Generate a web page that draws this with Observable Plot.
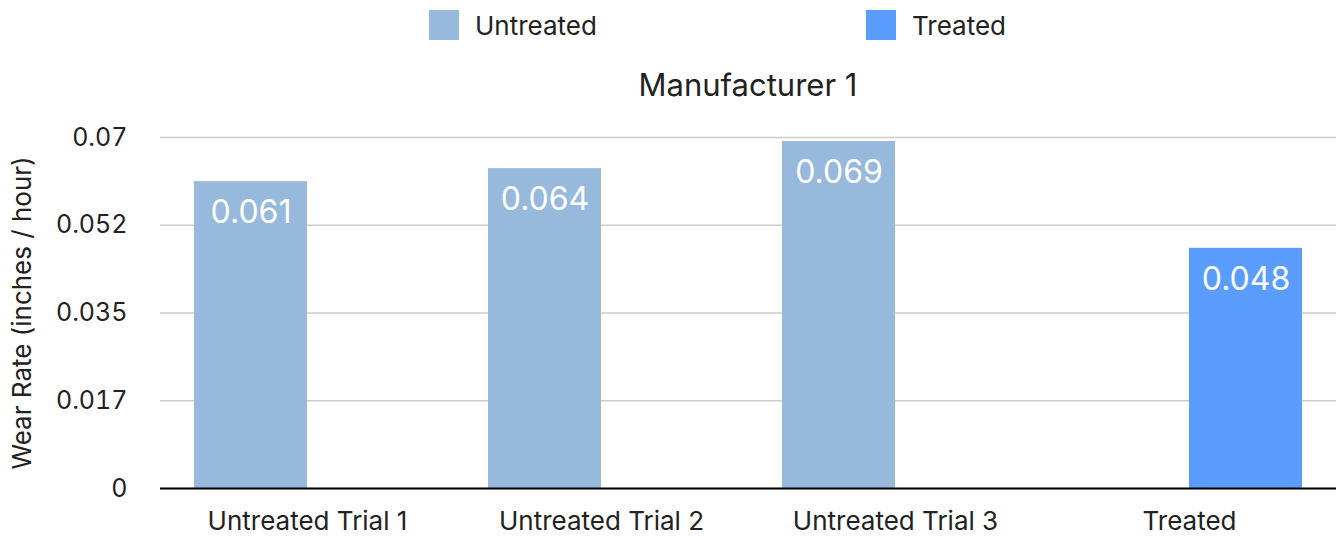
<!DOCTYPE html>
<html>
<head>
<meta charset="utf-8">
<script src="https://cdn.jsdelivr.net/npm/d3@7"></script>
<script src="https://cdn.jsdelivr.net/npm/@observablehq/plot@0.6"></script>
<style>
  html, body { margin: 0; padding: 0; background: #fff; }
  body { width: 1338px; height: 537px; position: relative; overflow: hidden; font-family: Inter, Roboto, sans-serif; color: #222; }
  .legend-item { position: absolute; top: 10px; height: 30px; display: flex; align-items: center; font-size: 26px; }
  .swatch { width: 30px; height: 30px; margin-right: 16px; }
  #title { position: absolute; left: 160px; width: 1176px; top: 66px; text-align: center; font-size: 31px; }
  #chart { position: absolute; left: 0; top: 110px; }
</style>
</head>
<body>
<div id="legend"></div>
<div id="title">Manufacturer 1</div>
<div id="chart"></div>
<script>
const categories = ["Untreated Trial 1", "Untreated Trial 2", "Untreated Trial 3", "Treated"];
const series = ["Untreated", "Treated"];
const seriesOf = ["Untreated", "Untreated", "Untreated", "Treated"];
const values = [0.0612, 0.0638, 0.0692, 0.0479];
const valueLabels = ["0.061", "0.064", "0.069", "0.048"];
const yTicks = [0, 0.0175, 0.035, 0.0525, 0.07];
const yTickLabels = ["0", "0.017", "0.035", "0.052", "0.07"];
const colors = ["#97b9db", "#5a9dff"];
const legendLeft = [429, 866];

const data = categories.map((c, i) => ({category: c, series: seriesOf[i], value: values[i], label: valueLabels[i]}));

const legend = document.getElementById("legend");
series.forEach((s, i) => {
  const item = document.createElement("div");
  item.className = "legend-item";
  item.style.left = legendLeft[i] + "px";
  const sw = document.createElement("div");
  sw.className = "swatch";
  sw.style.background = colors[i];
  const t = document.createElement("span");
  t.textContent = s;
  item.appendChild(sw);
  item.appendChild(t);
  legend.appendChild(item);
});

const chart = Plot.plot({
  width: 1338,
  height: 427,
  marginTop: 27,
  marginBottom: 49,
  marginLeft: 160,
  marginRight: 2,
  style: {fontFamily: "Inter, Roboto, sans-serif", fontSize: "25px", color: "#222", background: "transparent"},
  fx: {domain: categories, padding: 0, label: null},
  x: {domain: series, axis: null, paddingInner: 0, paddingOuter: 0.3},
  y: {domain: [0, 0.07]},
  color: {domain: series, range: colors},
  marks: [
    Plot.gridY(yTicks, {stroke: "#cccccc", strokeOpacity: 1, strokeWidth: 1.5}),
    Plot.axisY(yTicks, {
      tickFormat: d => yTickLabels[yTicks.indexOf(d)],
      tickSize: 0, tickPadding: 33,
      label: null
    }),
    Plot.axisY(yTicks, {
      tickFormat: () => "", tickSize: 0,
      label: "Wear Rate (inches / hour)", labelAnchor: "center", labelArrow: "none", labelOffset: 148,
      fontSize: 26
    }),
    Plot.barY(data, {fx: "category", x: "series", y: "value", fill: "series"}),
    Plot.text(data, {fx: "category", x: "series", y: "value", text: "label", dy: 31, fill: "white", fontSize: 32}),
    Plot.ruleY([0], {stroke: "black", strokeWidth: 2}),
    Plot.axisFx({anchor: "bottom", tickSize: 0, tickPadding: 23, label: null, fontSize: 26})
  ]
});
document.getElementById("chart").appendChild(chart);
</script>
</body>
</html>
